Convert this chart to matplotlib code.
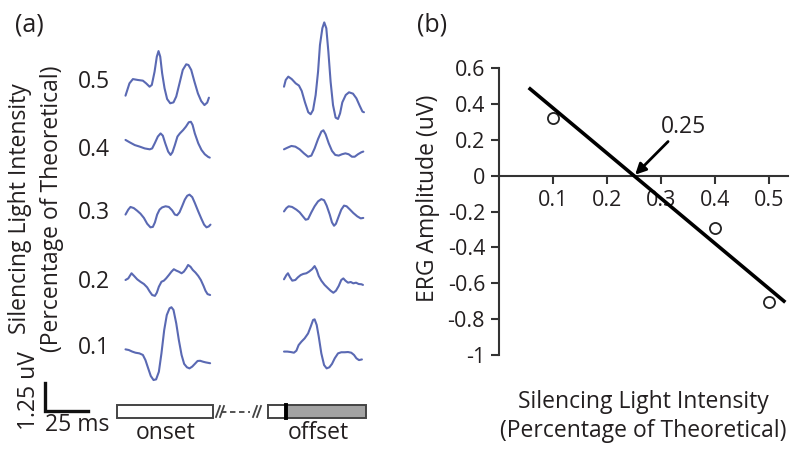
import matplotlib
matplotlib.use("Agg")
import matplotlib.pyplot as plt
from matplotlib.patches import Rectangle

plt.rcParams['font.family'] = ['Open Sans', 'DejaVu Sans']

W, H = 797, 455
MS_PER_PX = 25 / 43.0     # scale bar: 25 ms is 43 px
UV_PER_PX = 1.25 / 28.0   # scale bar: 1.25 uV is 28 px

TRACE_COLOR = '#5a69b3'
TEXT_COLOR = '#231f20'

# ---- panel (a): ERG traces, time in ms from trace start, amplitude in uV ----
intensities = ['0.5', '0.4', '0.3', '0.2', '0.1']

on_t_05 = [0, 2.3, 4.3, 7.2, 10.1, 12.0, 14.0, 15.3, 16.9, 18.2, 19.2, 20.2, 21.3, 22.7, 24.2, 26.0,
           27.9, 29.5, 31.4, 33.3, 35.3, 36.6, 38.2, 40.1, 42.1, 44.0, 45.9, 47.5, 48.5]
on_v_05 = [-0.61, -0.06, 0.13, 0.09, 0.06, -0.06, -0.21, -0.13, 0.46, 1.13, 1.38, 1.13, 0.39, -0.28, -0.76, -0.95,
           -0.91, -0.65, -0.06, 0.54, 0.79, 0.76, 0.54, 0.01, -0.51, -0.85, -1.03, -0.92, -0.70]
off_t_05 = [0, 1.0, 2.5, 4.5, 6.8, 8.7, 10.3, 12.2, 14.1, 15.5, 16.9, 18.4, 19.8, 20.9, 22.3, 23.4,
            24.6, 25.8, 27.1, 28.5, 30.0, 31.4, 32.6, 33.9, 35.9, 37.8, 40.1, 42.1, 44.0, 45.6, 46.5]
off_v_05 = [-0.21, 0.09, 0.24, 0.13, -0.06, -0.16, -0.40, -0.91, -1.35, -1.44, -1.25, -0.58, 0.46, 1.65, 2.40, 2.66,
            2.40, 1.35, 0.01, -1.03, -1.59, -1.65, -1.40, -0.91, -0.58, -0.46, -0.52, -0.73, -1.06, -1.32, -1.35]

on_t_04 = [0, 2.5, 5.4, 8.3, 11.2, 14.1, 15.5, 17.0, 18.8, 20.4, 21.7, 23.1, 24.8, 26.2, 27.3, 28.7,
           30.2, 31.6, 33.5, 35.1, 36.8, 38.0, 39.0, 40.3, 42.3, 44.2, 46.1, 48.1, 49.0]
on_v_04 = [0.45, 0.34, 0.22, 0.15, 0.07, 0.03, 0.07, 0.30, 0.60, 0.74, 0.64, 0.30, -0.07, -0.22, -0.10, 0.22,
           0.60, 0.74, 0.89, 1.04, 1.24, 1.26, 1.12, 0.74, 0.30, 0.0, -0.19, -0.31, -0.34]
off_t_04 = [0, 1.9, 4.3, 6.6, 9.1, 11.6, 14.0, 15.9, 17.8, 19.8, 21.7, 22.9, 24.2, 26.0, 27.9, 29.8,
            31.8, 33.7, 35.7, 37.6, 39.5, 41.1, 43.0, 45.0, 46.1]
off_v_04 = [0.03, 0.10, 0.18, 0.15, 0.03, -0.15, -0.30, -0.25, 0.07, 0.49, 0.82, 0.88, 0.70, 0.30, -0.04, -0.22,
            -0.25, -0.19, -0.15, -0.19, -0.30, -0.30, -0.19, -0.10, -0.07]

on_t_03 = [0, 1.6, 2.9, 4.8, 6.8, 8.7, 10.7, 12.6, 14.5, 15.9, 17.1, 18.4, 19.8, 21.3, 23.3, 25.2,
           27.1, 28.7, 30.0, 31.4, 32.9, 34.5, 35.9, 37.2, 38.8, 40.3, 42.3, 44.2, 45.7, 47.1, 48.4, 49.4]
on_v_03 = [-0.07, 0.15, 0.27, 0.22, 0.10, -0.03, -0.22, -0.48, -0.64, -0.62, -0.42, -0.07, 0.15, 0.25, 0.30, 0.27,
           0.12, -0.07, -0.10, 0.03, 0.30, 0.60, 0.77, 0.82, 0.71, 0.45, 0.07, -0.27, -0.52, -0.64, -0.60, -0.52]
off_t_03 = [0, 1.4, 2.7, 4.7, 7.2, 9.1, 11.0, 12.6, 14.0, 15.9, 17.8, 19.8, 21.7, 23.3, 24.8, 26.6,
            27.9, 29.1, 30.2, 31.8, 33.3, 34.9, 36.4, 38.4, 40.3, 42.6, 44.6, 46.1]
off_v_03 = [0.07, 0.22, 0.30, 0.27, 0.15, 0.03, -0.15, -0.30, -0.27, 0.03, 0.30, 0.52, 0.62, 0.57, 0.33, -0.07,
            -0.42, -0.57, -0.48, -0.15, 0.15, 0.33, 0.30, 0.15, 0.0, -0.15, -0.24, -0.22]

on_t_02 = [0, 1.6, 3.5, 5.0, 6.8, 8.7, 10.7, 12.6, 14.1, 15.5, 17.1, 18.2, 19.4, 20.9, 22.3, 23.6, 25.2,
           26.7, 28.1, 29.5, 31.0, 32.6, 33.9, 35.3, 36.4, 37.8, 39.1, 40.7, 42.3, 43.8, 45.4, 46.5, 47.7, 49.2]
on_v_02 = [0.09, 0.16, 0.39, 0.27, 0.12, 0.01, -0.09, -0.24, -0.43, -0.58, -0.62, -0.48, -0.21, 0.01, 0.06, 0.16, 0.31,
           0.46, 0.57, 0.51, 0.46, 0.39, 0.46, 0.61, 0.76, 0.68, 0.54, 0.42, 0.27, 0.09, -0.18, -0.39, -0.54, -0.58]
off_t_02 = [0, 1.4, 2.3, 3.5, 4.8, 6.6, 8.1, 9.7, 11.2, 13.0, 14.5, 16.3, 17.8, 19.0, 20.2, 21.7,
            23.6, 25.6, 27.1, 28.7, 30.2, 31.8, 33.3, 34.5, 35.7, 37.2, 38.8, 40.3, 41.9, 43.4, 45.0, 45.9]
off_v_02 = [0.12, 0.31, 0.39, 0.21, 0.06, 0.09, 0.21, 0.31, 0.36, 0.39, 0.46, 0.57, 0.71, 0.54, 0.27, 0.06,
            -0.13, -0.28, -0.39, -0.48, -0.39, -0.18, 0.09, 0.16, 0.06, -0.03, 0.0, -0.06, -0.03, -0.09, -0.10, -0.13]

on_t_01 = [0, 1.9, 3.9, 5.8, 8.1, 10.1, 11.6, 13.2, 14.7, 16.3, 17.8, 19.4, 20.9, 22.5, 24.0, 25.6,
           26.7, 27.9, 29.5, 31.0, 32.6, 34.1, 35.7, 37.2, 38.8, 40.3, 41.9, 43.4, 45.0, 46.5, 49.2]
on_v_01 = [-0.06, -0.09, -0.16, -0.21, -0.24, -0.31, -0.54, -0.91, -1.25, -1.43, -1.40, -1.06, -0.24, 0.80, 1.47, 1.77,
           1.82, 1.70, 1.10, 0.36, -0.31, -0.71, -0.86, -0.91, -0.83, -0.71, -0.58, -0.57, -0.61, -0.64, -0.68]
off_t_01 = [0, 1.9, 3.9, 5.8, 7.2, 8.5, 10.1, 12.0, 14.0, 15.5, 16.9, 17.8, 19.0, 20.2, 21.7,
            23.3, 24.8, 26.4, 27.9, 29.5, 31.4, 33.3, 35.3, 37.2, 39.1, 40.7, 42.1, 43.6, 45.3]
off_v_01 = [-0.16, -0.16, -0.18, -0.21, -0.12, 0.13, 0.28, 0.43, 0.65, 0.95, 1.25, 1.28, 1.03, 0.51, -0.24,
            -0.76, -0.91, -0.86, -0.71, -0.46, -0.24, -0.19, -0.19, -0.18, -0.21, -0.31, -0.46, -0.54, -0.51]

onset_t = [on_t_05, on_t_04, on_t_03, on_t_02, on_t_01]
onset_v = [on_v_05, on_v_04, on_v_03, on_v_02, on_v_01]
offset_t = [off_t_05, off_t_04, off_t_03, off_t_02, off_t_01]
offset_v = [off_v_05, off_v_04, off_v_03, off_v_02, off_v_01]

# ---- panel (b): amplitude vs intensity ----
point_x = [0.1, 0.4, 0.5]
point_y = [0.32, -0.29, -0.705]
fit_x = [0.055, 0.53]
fit_y = [0.49, -0.706]
crossing = 0.25
yticks = [0.6, 0.4, 0.2, 0, -0.2, -0.4, -0.6, -0.8, -1]
ytick_labels = ['0.6', '0.4', '0.2', '0', '-0.2', '-0.4', '-0.6', '-0.8', '-1']
xticks = [0.1, 0.2, 0.3, 0.4, 0.5]
xtick_labels = ['0.1', '0.2', '0.3', '0.4', '0.5']

fig = plt.figure(figsize=(W / 100, H / 100), dpi=100)

# traces axis: whole figure, ms horizontally, uV vertically (0 at top)
ax_a = fig.add_axes([0, 0, 1, 1])
ax_a.set_xlim(0, W * MS_PER_PX)
ax_a.set_ylim(-H * UV_PER_PX, 0)
ax_a.axis('off')

row_y = [82, 150, 213, 282, 348]   # baseline of each row, px from top
onset_x0 = 125.5
offset_x0 = 284
for i in range(len(intensities)):
    base = -row_y[i] * UV_PER_PX
    ax_a.plot([onset_x0 * MS_PER_PX + t for t in onset_t[i]], [base + v for v in onset_v[i]],
              color=TRACE_COLOR, lw=1.5, solid_capstyle='round', solid_joinstyle='round')
    ax_a.plot([offset_x0 * MS_PER_PX + t for t in offset_t[i]], [base + v for v in offset_v[i]],
              color=TRACE_COLOR, lw=1.5, solid_capstyle='round', solid_joinstyle='round')

# scale bar
sx, sy = 45 * MS_PER_PX, -411 * UV_PER_PX
ax_a.plot([sx, sx, sx + 25], [sy + 1.25, sy, sy], color='#111111', lw=2.4, solid_joinstyle='miter')

# pixel overlay for labels and the stimulus schematic
ax_px = fig.add_axes([0, 0, 1, 1])
ax_px.set_xlim(0, W)
ax_px.set_ylim(H, 0)
ax_px.axis('off')

fs = 16.5
ax_px.text(29, 25, '(a)', fontsize=18, ha='center', va='center', color=TEXT_COLOR)
ax_px.text(20, 209, 'Silencing Light Intensity', fontsize=fs, rotation=90,
           ha='center', va='center', color=TEXT_COLOR)
ax_px.text(52, 209, '(Percentage of Theoretical)', fontsize=fs, rotation=90,
           ha='center', va='center', color=TEXT_COLOR)
for i, lab in enumerate(intensities):
    ax_px.text(94, row_y[i], lab, fontsize=fs, ha='center', va='center', color=TEXT_COLOR)
ax_px.text(29, 391, '1.25 uV', fontsize=fs, rotation=90, ha='center', va='center', color=TEXT_COLOR)
ax_px.text(77, 425, '25 ms', fontsize=fs, ha='center', va='center', color=TEXT_COLOR)

# stimulus schematic
edge = '#444444'
ax_px.add_patch(Rectangle((117, 405), 96, 13, facecolor='white', edgecolor=edge, lw=1.4))
for xb in [216, 220, 253, 257]:
    ax_px.plot([xb, xb + 4], [417, 406], color=edge, lw=1.3)
ax_px.plot([221, 250], [411.5, 411.5], color=edge, lw=1.3, ls=(0, (3, 2)))
ax_px.plot([268, 286], [405, 405], color=edge, lw=1.4)
ax_px.plot([268, 286], [418, 418], color=edge, lw=1.4)
ax_px.plot([268, 268], [405, 418], color=edge, lw=1.4)
ax_px.add_patch(Rectangle((286, 405), 80, 13, facecolor='#a3a3a3', edgecolor=edge, lw=1.4))
ax_px.plot([286, 286], [405, 418], color='#000000', lw=2.8)
ax_px.text(166, 433, 'onset', fontsize=fs, ha='center', va='center', color=TEXT_COLOR)
ax_px.text(318, 433, 'offset', fontsize=fs, ha='center', va='center', color=TEXT_COLOR)

ax_px.text(432, 25, '(b)', fontsize=18, ha='center', va='center', color=TEXT_COLOR)
ax_px.text(428, 198, 'ERG Amplitude (uV)', fontsize=fs, rotation=90,
           ha='center', va='center', color=TEXT_COLOR)
ax_px.text(643, 402, 'Silencing Light Intensity', fontsize=fs, ha='center', va='center', color=TEXT_COLOR)
ax_px.text(643, 431, '(Percentage of Theoretical)', fontsize=fs, ha='center', va='center', color=TEXT_COLOR)

# ---- panel (b) axes ----
ax_b = fig.add_axes([499 / W, (H - 355) / H, 289 / W, 287 / H])
ax_b.set_facecolor('none')
ax_b.set_xlim(0, 0.535)
ax_b.set_ylim(-1, 0.6)
for s in ['top', 'right']:
    ax_b.spines[s].set_visible(False)
ax_b.spines['bottom'].set_position(('data', 0))
ax_b.spines['left'].set_bounds(-1, 0.6)
for s in ['left', 'bottom']:
    ax_b.spines[s].set_color('#333333')
    ax_b.spines[s].set_linewidth(1.5)
ax_b.set_yticks(yticks)
ax_b.set_yticklabels(ytick_labels)
ax_b.set_xticks(xticks)
ax_b.set_xticklabels(xtick_labels)
ax_b.tick_params(axis='both', direction='out', length=6, width=1.5, color='#333333',
                 labelsize=15.5, labelcolor=TEXT_COLOR)
ax_b.tick_params(axis='x', pad=4)
ax_b.tick_params(axis='y', pad=4)

ax_b.plot(fit_x, fit_y, color='black', lw=2.6, zorder=4, solid_capstyle='butt')
ax_b.plot(point_x, point_y, 'o', mfc='white', mec='#222222', mew=1.3, ms=8, zorder=3)
ax_b.text(0.341, 0.272, '0.25', fontsize=fs, ha='center', va='center', color=TEXT_COLOR)
ax_b.annotate('', xy=(crossing + 0.002, 0.005), xytext=(0.313, 0.19),
              arrowprops=dict(arrowstyle='-|>', color='black', lw=2, mutation_scale=16,
                              shrinkA=0, shrinkB=0), zorder=5)

fig.savefig('out.png', dpi=100)
